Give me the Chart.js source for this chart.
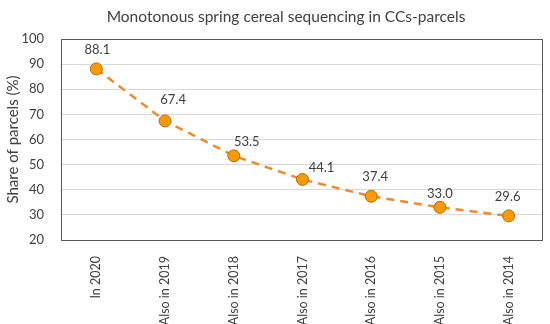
<!DOCTYPE html>
<html><head><meta charset="utf-8">
<script src="https://cdn.jsdelivr.net/npm/chart.js@4/dist/chart.umd.min.js"></script>
<style>html,body{margin:0;padding:0;background:#fff}#wrap{width:550px;height:324px}</style>
</head><body><div id="wrap"><canvas id="c" width="550" height="324"></canvas></div>
<script>
const categories = ["In 2020","Also in 2019","Also in 2018","Also in 2017","Also in 2016","Also in 2015","Also in 2014"];
const shareValues = [88.1, 67.4, 53.5, 44.1, 37.4, 33.0, 29.6];
const yTicks = [20,30,40,50,60,70,80,90,100];
const FONT = "Lato, 'Open Sans', sans-serif";
const TITLE = 'Monotonous spring cereal sequencing in CCs-parcels';
// label placement (style only)
const labelDx = [1, 8, 13, 19, 4, 0, -1];
const labelDy = [-19, -21, -14, -12, -19, -14, -19];

const labelPlugin = {
  id: 'valLabels',
  afterDatasetsDraw(chart) {
    const ctx = chart.ctx;
    const meta = chart.getDatasetMeta(0);
    ctx.save();
    ctx.font = "13px " + FONT;
    ctx.fillStyle = '#404040';
    ctx.textAlign = 'center';
    ctx.textBaseline = 'middle';
    meta.data.forEach((pt, i) => {
      ctx.fillText(shareValues[i].toFixed(1), pt.x + labelDx[i], pt.y + labelDy[i]);
    });
    ctx.restore();
  }
};
const framePlugin = {
  id: 'frame',
  beforeDatasetsDraw(chart) {
    const a = chart.chartArea, ctx = chart.ctx;
    ctx.save();
    ctx.strokeStyle = '#595959';
    ctx.lineWidth = 1;
    ctx.strokeRect(Math.round(a.left) - 0.5, Math.round(a.top) + 0.5, Math.round(a.right - a.left), Math.round(a.bottom - a.top));
    ctx.font = "15.5px " + FONT;
    ctx.fillStyle = '#404040';
    ctx.textAlign = 'center';
    ctx.textBaseline = 'middle';
    ctx.fillText(TITLE, 286, 17);
    ctx.restore();
  }
};

new Chart(document.getElementById('c'), {
  type: 'line',
  data: {
    labels: categories,
    datasets: [{
      data: shareValues,
      borderColor: '#F08A2E',
      borderWidth: 2.5,
      borderDash: [8, 6],
      pointBackgroundColor: '#FF9900',
      pointBorderColor: '#A86F0A',
      pointBorderWidth: 1,
      pointRadius: 6,
      tension: 0,
      fill: false
    }]
  },
  options: {
    responsive: false,
    animation: false,
    devicePixelRatio: 1,
    layout: { padding: { left: 0, right: 7, top: 39, bottom: 0 } },
    plugins: {
      legend: { display: false },
      tooltip: { enabled: false },
      title: { display: false }
    },
    scales: {
      x: {
        offset: true,
        grid: { display: false },
        border: { display: false },
        afterFit(axis) { axis.height = 84; },
        ticks: {
          color: '#404040',
          font: { family: FONT, size: 12.5 },
          minRotation: 90, maxRotation: 90,
          padding: 8
        }
      },
      y: {
        min: 20, max: 100,
        afterBuildTicks(axis) { axis.ticks = yTicks.map(v => ({ value: v })); },
        afterFit(axis) { axis.width = 62; },
        grid: { color: '#D9D9D9', lineWidth: 1, drawTicks: false },
        border: { display: false },
        ticks: { color: '#404040', font: { family: FONT, size: 13 }, padding: 18 },
        title: {
          display: true,
          text: 'Share of parcels (%)',
          color: '#404040',
          font: { family: FONT, size: 15 },
          padding: { top: 4, bottom: 0 }
        }
      }
    }
  },
  plugins: [labelPlugin, framePlugin]
});
</script></body></html>
